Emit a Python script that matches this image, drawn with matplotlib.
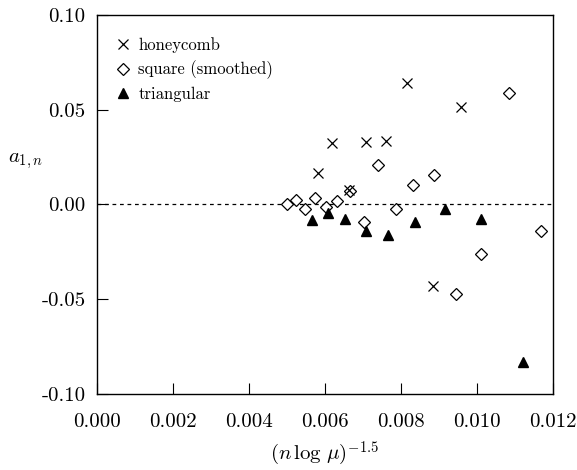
import matplotlib
matplotlib.use("Agg")
import matplotlib.pyplot as plt

plt.rcParams['font.family'] = 'serif'
plt.rcParams['font.serif'] = ['cmr10', 'DejaVu Serif']
plt.rcParams['mathtext.fontset'] = 'cm'
plt.rcParams['axes.unicode_minus'] = False
plt.rcParams['axes.formatter.use_mathtext'] = True

hc_x = [0.00583, 0.00620, 0.00663, 0.00708, 0.00760, 0.00817, 0.00884, 0.00959]
hc_y = [0.0165, 0.0323, 0.0079, 0.0330, 0.0337, 0.0639, -0.0432, 0.0515]

sq_x = [0.00501, 0.00523, 0.00548, 0.00574, 0.00603, 0.00632, 0.00665, 0.00702,
        0.00741, 0.00786, 0.00833, 0.00886, 0.00946, 0.01010, 0.01084, 0.01169]
sq_y = [0.0000, 0.0023, -0.0025, 0.0035, -0.0012, 0.0017, 0.0073, -0.0095,
        0.0207, -0.0025, 0.0104, 0.0154, -0.0471, -0.0263, 0.0586, -0.0139]

tr_x = [0.00565, 0.00608, 0.00654, 0.00707, 0.00767, 0.00837, 0.00917, 0.01010, 0.01122]
tr_y = [-0.0080, -0.0047, -0.0075, -0.0140, -0.0160, -0.0090, -0.0022, -0.0078, -0.0830]

xticks = [0.000, 0.002, 0.004, 0.006, 0.008, 0.010, 0.012]
xtick_labels = ['0.000', '0.002', '0.004', '0.006', '0.008', '0.010', '0.012']
yticks = [-0.10, -0.05, 0.00, 0.05, 0.10]
ytick_labels = ['-0.10', '-0.05', '0.00', '0.05', '0.10']

fig = plt.figure(figsize=(5.77, 4.70), dpi=100)
ax = fig.add_axes([0.1676, 0.1617, 0.7908, 0.8064])

ax.axhline(0, color='black', lw=0.9, ls=(0, (3, 3)), zorder=1)
ax.plot(hc_x, hc_y, ls='none', marker='x', ms=7, mew=0.9, color='black',
        label='honeycomb', zorder=3)
ax.plot(sq_x, sq_y, ls='none', marker='D', ms=6.5, mew=0.9, mfc='white',
        mec='black', label='square (smoothed)', zorder=2)
ax.plot(tr_x, tr_y, ls='none', marker='^', ms=7.5, color='black',
        label='triangular', zorder=3)

ax.set_xlim(0, 0.012)
ax.set_ylim(-0.10, 0.10)
ax.set_xticks(xticks)
ax.set_xticklabels(xtick_labels)
ax.set_yticks(yticks)
ax.set_yticklabels(ytick_labels)
ax.tick_params(direction='in', length=8, width=0.8, labelsize=15)
ax.tick_params(axis='y', pad=8)
ax.tick_params(axis='x', pad=14)
for s in ax.spines.values():
    s.set_linewidth(1.0)

ax.set_xlabel(r'$(n\,\log\,\mu)^{-1.5}$', fontsize=15, labelpad=6)
ax.set_ylabel(r'$a_{1,n}$', fontsize=15, rotation=0, ha='center', va='center')
ax.yaxis.set_label_coords(-0.155, 0.615)

leg = ax.legend(loc='upper left', frameon=False, fontsize=12, handletextpad=0.3,
                handlelength=1.2, labelspacing=0.45, borderaxespad=0.6,
                bbox_to_anchor=(0.0, 0.985))

fig.savefig('out.png', dpi=100)
